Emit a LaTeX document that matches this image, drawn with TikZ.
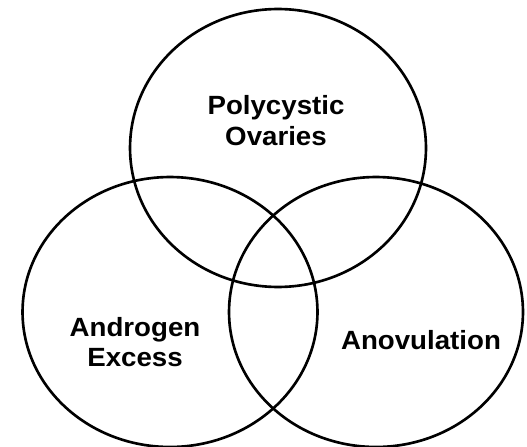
\documentclass[tikz,border=0pt]{standalone}
\usepackage{fontspec}
\setmainfont{Liberation Sans}[FakeStretch=1.05]
\usetikzlibrary{shapes.geometric}
\tikzset{
	set/.style={draw,ellipse,line width=1.5pt,inner sep=0pt},
	lbl/.style={align=center,inner sep=0pt,font=\fontsize{15}{17.3}\selectfont\bfseries}
}
\begin{document}
\begin{tikzpicture}[x=0.02cm,y=-0.02cm]
	\useasboundingbox (0,0) rectangle (527,446);
	% the three sets
	\node[set,minimum width=5.92cm,minimum height=5.56cm] (ovar) at (278,148) {};
	\node[set,minimum width=5.9cm,minimum height=5.4cm] (andr) at (170,312) {};
	\node[set,minimum width=5.88cm,minimum height=5.4cm] (anov) at (376,312) {};
	% labels
	\node[lbl] (ovarlbl) at (276,120.5) {Polycystic\\Ovaries};
	\node[lbl] (andrlbl) at (135,342) {Androgen\\Excess};
	\node[lbl] (anovlbl) at (421,340) {Anovulation};
\end{tikzpicture}
\end{document}
